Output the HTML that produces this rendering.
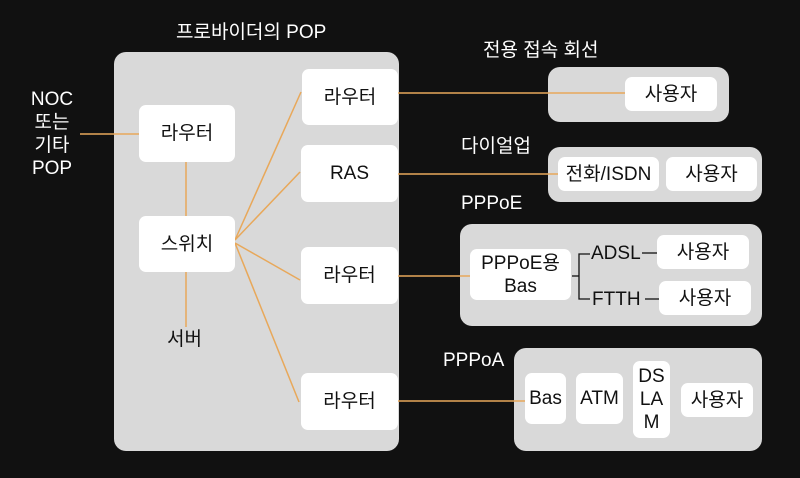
<!DOCTYPE html>
<html><head><meta charset="utf-8"><style>
*{margin:0;padding:0;box-sizing:border-box}
body{width:800px;height:478px;background:#111;position:relative;overflow:hidden;font-family:"Liberation Sans","Noto Sans CJK KR",sans-serif;font-size:19px}
.p{position:absolute;background:#d9d9d9;border-radius:12px}
.b{position:absolute;background:#fff;border-radius:7px;display:flex;align-items:center;justify-content:center;text-align:center;color:#111;line-height:23px}
.t{position:absolute;color:#fff;white-space:nowrap;line-height:23px}
.k{position:absolute;color:#111;white-space:nowrap;line-height:23px}
svg{position:absolute;left:0;top:0}
</style></head><body>
<div class="p" style="left:114px;top:52px;width:285px;height:399px"></div>
<div class="p" style="left:548px;top:67px;width:181px;height:55px"></div>
<div class="p" style="left:548px;top:147px;width:214px;height:55px"></div>
<div class="p" style="left:460px;top:224px;width:302px;height:102px"></div>
<div class="p" style="left:514px;top:348px;width:248px;height:103px"></div>
<svg width="800" height="478">
<g stroke="#e8a85a" stroke-width="1.5" fill="none">
<line x1="80" y1="134" x2="139" y2="134"/>
<line x1="186" y1="162" x2="186" y2="216"/>
<line x1="186" y1="272" x2="186" y2="327"/>
<line x1="235" y1="240" x2="301" y2="92"/>
<line x1="235" y1="240" x2="300" y2="172"/>
<line x1="235" y1="243" x2="300" y2="280"/>
<line x1="235" y1="243" x2="299" y2="402"/>
<line x1="398" y1="93" x2="625" y2="93"/>
<line x1="398" y1="174" x2="558" y2="174"/>
<line x1="398" y1="276" x2="470" y2="276"/>
<line x1="398" y1="401" x2="525" y2="401"/>
</g>
<g stroke="#111" stroke-width="1.3" fill="none">
<polyline points="572,276 579,276"/>
<polyline points="590,254 579,254 579,299 590,299"/>
<line x1="642" y1="253" x2="657" y2="253"/>
<line x1="645" y1="299" x2="659" y2="299"/>
</g>
</svg>
<div class="t" style="left:176px;top:21px">프로바이더의 POP</div>
<div class="t" style="left:20px;top:88px;width:64px;text-align:center">NOC<br>또는<br>기타<br>POP</div>
<div class="b" style="left:139px;top:105px;width:96px;height:57px">라우터</div>
<div class="b" style="left:139px;top:216px;width:96px;height:56px">스위치</div>
<div class="k" style="left:167px;top:328px">서버</div>
<div class="b" style="left:302px;top:69px;width:96px;height:56px">라우터</div>
<div class="b" style="left:301px;top:145px;width:97px;height:57px">RAS</div>
<div class="b" style="left:301px;top:247px;width:97px;height:57px">라우터</div>
<div class="b" style="left:301px;top:373px;width:97px;height:57px">라우터</div>
<div class="t" style="left:483px;top:39px">전용 접속 회선</div>
<div class="b" style="left:625px;top:77px;width:92px;height:34px">사용자</div>
<div class="t" style="left:461px;top:135px">다이얼업</div>
<div class="b" style="left:558px;top:157px;width:101px;height:34px">전화/ISDN</div>
<div class="b" style="left:666px;top:157px;width:91px;height:34px">사용자</div>
<div class="t" style="left:461px;top:192px">PPPoE</div>
<div class="b" style="left:470px;top:249px;width:101px;height:51px">PPPoE용<br>Bas</div>
<div class="k" style="left:591px;top:242px">ADSL</div>
<div class="k" style="left:592px;top:288px">FTTH</div>
<div class="b" style="left:657px;top:235px;width:92px;height:34px">사용자</div>
<div class="b" style="left:659px;top:281px;width:92px;height:34px">사용자</div>
<div class="t" style="left:443px;top:349px">PPPoA</div>
<div class="b" style="left:525px;top:373px;width:41px;height:51px">Bas</div>
<div class="b" style="left:576px;top:373px;width:47px;height:51px">ATM</div>
<div class="b" style="left:633px;top:361px;width:37px;height:77px">DS<br>LA<br>M</div>
<div class="b" style="left:681px;top:383px;width:72px;height:34px">사용자</div>
</body></html>
